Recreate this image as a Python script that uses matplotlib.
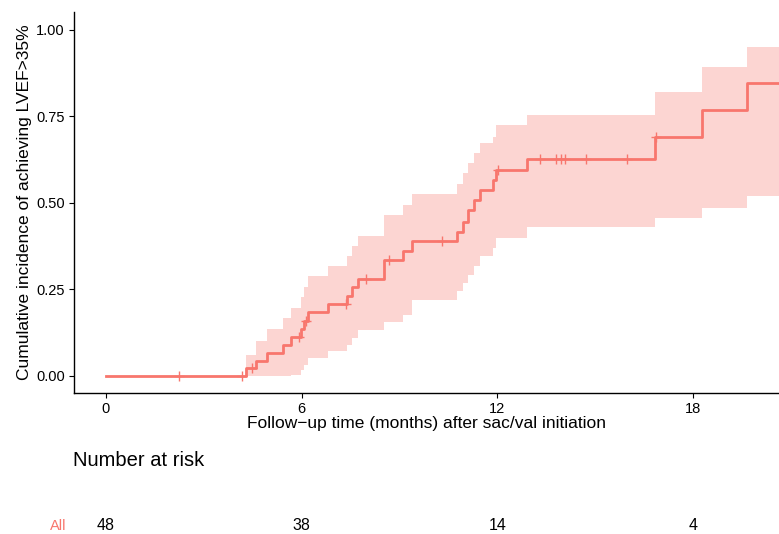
import numpy as np
import matplotlib.pyplot as plt
import matplotlib.transforms as mtransforms

plt.rcParams['font.family'] = ['Liberation Sans', 'DejaVu Sans']

# ---------------------------------------------
# Data (months)
# ---------------------------------------------
time = [0, 4.3, 4.6, 4.93, 5.42, 5.67, 5.98, 6.07, 6.2, 6.82, 7.38, 7.56, 7.72,
        8.53, 9.1, 9.4, 10.75, 10.94, 11.11, 11.29, 11.47, 11.88, 11.96, 12.92,
        16.84, 18.28, 19.65, 20.7]
estimate = [0, .023, .044, .067, .090, .112, .135, .157, .183, .207, .231, .258, .281,
            .335, .362, .391, .417, .446, .478, .509, .538, .566, .595, .626,
            .690, .769, .846, .846]
upper = [0, .061, .101, .135, .167, .196, .229, .257, .287, .318, .345, .376, .405,
         .465, .494, .525, .555, .587, .615, .644, .673, .690, .725, .754,
         .822, .894, .950, .950]
lower = [0, 0, 0, 0, 0, .003, .017, .030, .050, .072, .090, .109, .133,
         .155, .176, .220, .244, .268, .292, .318, .347, .370, .398, .430,
         .457, .485, .520, .520]
censor_times = [2.25, 4.17, 4.47, 5.92, 6.13, 7.36, 7.96, 8.69, 10.29, 12.02,
                13.31, 13.79, 13.94, 14.09, 14.71, 15.97, 16.86]

risk_times = [0, 6, 12, 18]
risk_counts = [48, 38, 14, 4]
strata = "All"

COL = "#F8766D"

# ---------------------------------------------
# Figure
# ---------------------------------------------
W, H = 779, 534
fig = plt.figure(figsize=(W / 100, H / 100), dpi=100)
ax = fig.add_axes([74 / W, 1 - 393 / H, (W - 74) / W, (393 - 12) / H])

ax.fill_between(time, lower, upper, step="post", color=COL, alpha=0.3, lw=0)
ax.step(time, estimate, where="post", color=COL, lw=2)

t_arr = np.array(time)
e_arr = np.array(estimate)
idx = np.searchsorted(t_arr, censor_times, side="right") - 1
ax.plot(censor_times, e_arr[idx], ls="none", marker="+", ms=7, mew=1, color=COL)

ax.set_xlim(-0.98, 20.64)
ax.set_ylim(-0.05, 1.052)
ax.set_xticks([0, 6, 12, 18])
ax.set_yticks([0, 0.25, 0.5, 0.75, 1.0])
ax.set_yticklabels(["0.00", "0.25", "0.50", "0.75", "1.00"])
ax.tick_params(labelsize=10.5, length=3.5, width=0.8, colors="black", pad=3)

for s in ["top", "right"]:
    ax.spines[s].set_visible(False)
for s in ["left", "bottom"]:
    ax.spines[s].set_linewidth(1.0)

ax.set_xlabel("Follow\u2212up time (months) after sac/val initiation", fontsize=12.5, labelpad=0)
ax.set_ylabel("Cumulative incidence of achieving LVEF>35%", fontsize=12.5, labelpad=3)

# ---------------------------------------------
# Number at risk table
# ---------------------------------------------
trans = mtransforms.blended_transform_factory(ax.transData, fig.transFigure)
fig.text(73 / W, 1 - 460 / H, "Number at risk", fontsize=14.5, ha="left", va="center")
for t, n in zip(risk_times, risk_counts):
    fig.text(t, 1 - 526 / H, str(n), transform=trans, fontsize=11.5, ha="center", va="center")
fig.text(66 / W, 1 - 526 / H, strata, fontsize=10.5, color=COL, ha="right", va="center")

fig.savefig("out.png", dpi=100)
